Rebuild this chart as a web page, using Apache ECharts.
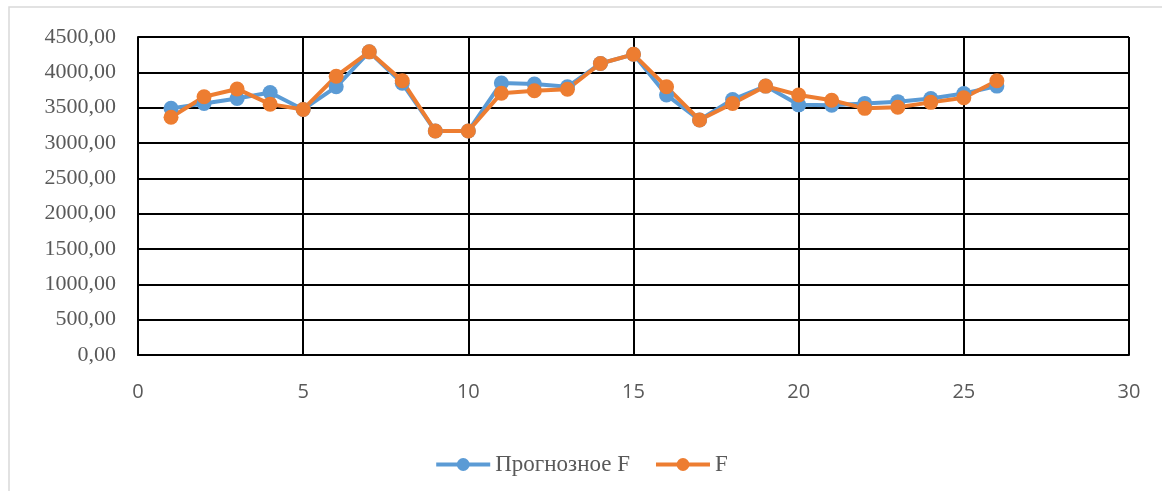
<!DOCTYPE html>
<html><head><meta charset="utf-8">
<script src="https://cdn.jsdelivr.net/npm/echarts@6/dist/echarts.min.js"></script>
<style>html,body{margin:0;padding:0;background:#fff}#c{width:1162px;height:491px}</style>
</head><body><div id="c"></div>
<script>
const xValues = [1,2,3,4,5,6,7,8,9,10,11,12,13,14,15,16,17,18,19,20,21,22,23,24,25,26];
const forecastF = [3490,3560,3630,3715,3475,3795,4290,3845,3170,3170,3850,3835,3795,4125,4255,3680,3325,3615,3805,3540,3535,3560,3585,3630,3700,3805];
const actualF = [3365,3655,3765,3550,3475,3945,4290,3880,3170,3170,3705,3740,3760,4125,4255,3795,3325,3560,3805,3680,3605,3490,3505,3575,3640,3880];
const seriesNames = ['Прогнозное F', 'F'];
const yMin = 0, yMax = 4500, yStep = 500;
const xMin = 0, xMax = 30, xStep = 5;

const chart = echarts.init(document.getElementById('c'));
const serif = '"Liberation Serif", "Times New Roman", serif';
const sans = '"Open Sans", "Noto Sans", sans-serif';
function mk(name, vals, color) {
  return {
    name: name, type: 'line', data: xValues.map((x, i) => [x, vals[i]]),
    symbol: 'circle', symbolSize: 15,
    lineStyle: { color: color, width: 4 }, itemStyle: { color: color },
    animation: false
  };
}
chart.setOption({
  animation: false,
  graphic: [{ type: 'rect', shape: { x: 9, y: 7, width: 1200, height: 520 }, style: { fill: 'none', stroke: '#d9d9d9', lineWidth: 1.5 }, silent: true }],
  grid: { left: 138, right: 33, top: 37, bottom: 136, containLabel: false },
  legend: {
    top: 448, left: 'center', itemWidth: 54, itemHeight: 16, itemGap: 24,
    lineStyle: { width: 4 },
    textStyle: { fontFamily: serif, fontSize: 23, color: '#595959' },
    data: seriesNames
  },
  xAxis: {
    type: 'value', min: xMin, max: xMax, interval: xStep,
    axisLine: { show: true, lineStyle: { color: '#000', width: 2 } },
    axisTick: { show: false },
    axisLabel: { fontFamily: sans, fontSize: 20, color: '#595959', margin: 27 },
    splitLine: { show: true, lineStyle: { color: '#000', width: 2 } }
  },
  yAxis: {
    type: 'value', min: yMin, max: yMax, interval: yStep,
    axisLine: { show: true, lineStyle: { color: '#000', width: 2 } },
    axisTick: { show: false },
    axisLabel: { fontFamily: serif, fontSize: 22, color: '#595959', margin: 22,
      formatter: v => v.toFixed(2).replace('.', ',') },
    splitLine: { show: true, lineStyle: { color: '#000', width: 2 } }
  },
  series: [mk(seriesNames[0], forecastF, '#5b9bd5'), mk(seriesNames[1], actualF, '#ed7d31')]
});
</script></body></html>
